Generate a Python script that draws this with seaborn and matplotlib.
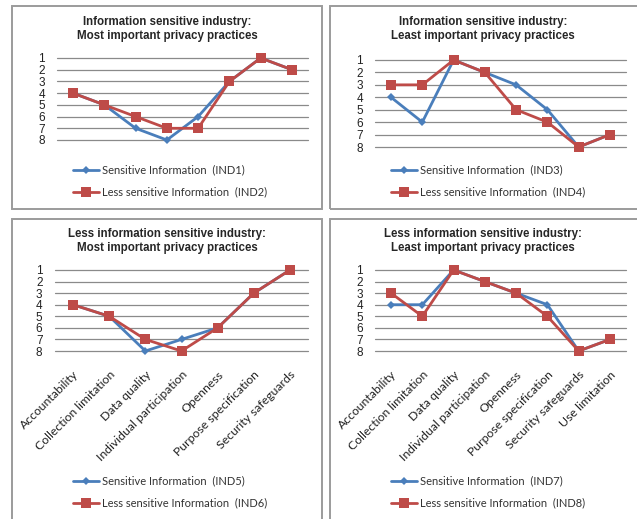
import numpy as np
import pandas as pd
import matplotlib
matplotlib.use("Agg")
import matplotlib.pyplot as plt
import seaborn as sns
from matplotlib.patches import Rectangle
from matplotlib.lines import Line2D

# OECD privacy practices (rank 1 = most, 8 = least)
practices = ["Accountability", "Collection limitation", "Data quality",
             "Individual participation", "Openness", "Purpose specification",
             "Security safeguards", "Use limitation"]

ind1 = [4, 5, 7, 8, 6, 3, 1, 2]
ind2 = [4, 5, 6, 7, 7, 3, 1, 2]
ind3 = [4, 6, 1, 2, 3, 5, 8, 7]
ind4 = [3, 3, 1, 2, 5, 6, 8, 7]
ind5 = [4, 5, 8, 7, 6, 3, 1]
ind6 = [4, 5, 7, 8, 6, 3, 1]
ind7 = [4, 4, 1, 2, 3, 4, 8, 7]
ind8 = [3, 5, 1, 2, 3, 5, 8, 7]
ranks = list(range(1, 9))

titles = [
    "Information sensitive industry:\nMost important privacy practices",
    "Information sensitive industry:\nLeast important privacy practices",
    "Less information sensitive industry:\nMost important privacy practices",
    "Less information sensitive industry:\nLeast important privacy practices",
]
series = [(ind1, ind2, "IND1", "IND2"), (ind3, ind4, "IND3", "IND4"),
          (ind5, ind6, "IND5", "IND6"), (ind7, ind8, "IND7", "IND8")]

BLUE = "#4a7ebb"
RED = "#be4b48"
GRID = "#8a8a8a"

W, H = 637, 519
sns.set_theme(style="white")
plt.rcParams["font.family"] = ["Lato", "DejaVu Sans"]

fig = plt.figure(figsize=(W / 100, H / 100), dpi=100)


def px_rect(x0, x1, ytop, ybot):
    return [x0 / W, 1 - ybot / H, (x1 - x0) / W, (ybot - ytop) / H]


# layout in pixels: panel frame, plot area, title y, legend anchor
panels = [
    dict(frame=(12, 6, 322, 209), area=(57.4, 307.6, 58, 140), title_y=29, leg=(73, 181), labels=False),
    dict(frame=(330, 6, 640, 209), area=(375.4, 625.6, 60, 147), title_y=29, leg=(391, 181), labels=False),
    dict(frame=(12, 219, 322, 522), area=(55, 308, 270, 351), title_y=241, leg=(73, 492), labels=True),
    dict(frame=(330, 219, 640, 522), area=(375.4, 625.6, 270, 351), title_y=241, leg=(391, 492), labels=True),
]

for p, title, (s_vals, l_vals, s_id, l_id) in zip(panels, titles, series):
    fx0, fy0, fx1, fy1 = p["frame"]
    fig.patches.append(Rectangle((fx0 / W, 1 - fy1 / H), (fx1 - fx0) / W, (fy1 - fy0) / H,
                                 transform=fig.transFigure, fill=False,
                                 edgecolor="#9b9b9b", linewidth=1.4))
    cx = (fx0 + min(fx1, 636)) / 2 if fx1 > W else (fx0 + fx1) / 2
    fig.text(cx / W, 1 - p["title_y"] / H, title,
             ha="center", va="center", fontsize=8.3, fontweight="bold",
             family="Liberation Sans", linespacing=1.2)

    ax = fig.add_axes(px_rect(*p["area"]))
    n = len(s_vals)
    xs = np.arange(n)
    df = pd.DataFrame({"x": np.concatenate([xs, xs]),
                       "rank": s_vals + l_vals,
                       "series": [f"Sensitive Information  ({s_id})"] * n +
                                 [f"Less sensitive Information  ({l_id})"] * n})
    names = df["series"].unique().tolist()
    sns.lineplot(data=df, x="x", y="rank", hue="series", style="series",
                 palette={names[0]: BLUE, names[1]: RED},
                 markers={names[0]: "D", names[1]: "s"},
                 dashes=False, linewidth=2.0, ax=ax, legend=False, sort=False)
    lines = ax.get_lines()
    lines[0].set_markersize(4.2)
    lines[1].set_markersize(7.5)
    for ln in lines:
        ln.set_clip_on(False)
        ln.set_markeredgewidth(0)
    lines[0].set_zorder(3)
    lines[1].set_zorder(4)

    ax.set_xlim(-0.5, n - 0.5)
    ax.set_ylim(8, 1)
    ax.set_yticks(ranks)
    ax.grid(False)
    for r in ranks:
        ax.axhline(r, color=GRID, linewidth=0.9, zorder=1, clip_on=False)
    for sp in ax.spines.values():
        sp.set_visible(False)
    ax.tick_params(axis="y", length=0, pad=9, labelsize=8.5, labelcolor="#222222")
    ax.set_xlabel("")
    ax.set_ylabel("")
    for t in ax.get_yticklabels():
        t.set_family("Liberation Sans")
    if p["labels"]:
        ax.set_xticks(xs)
        ax.set_xticklabels(practices[:n], rotation=45, ha="right",
                           rotation_mode="anchor", fontsize=8.8, color="#222222")
        ax.tick_params(axis="x", length=0, pad=13)
    else:
        ax.set_xticks([])

    handles = [Line2D([], [], color=BLUE, marker="D", markersize=4.2, linewidth=2.0, markeredgewidth=0),
               Line2D([], [], color=RED, marker="s", markersize=7.5, linewidth=2.0, markeredgewidth=0)]
    lx, ly = p["leg"]
    fig.legend(handles, names, loc="center left",
               bbox_to_anchor=(lx / W, 1 - ly / H), bbox_transform=fig.transFigure,
               frameon=False, fontsize=8.0, handlelength=2.3, handletextpad=0.3,
               labelspacing=1.0, borderpad=0, borderaxespad=0, labelcolor="#333333")

fig.savefig("out.png", dpi=100)
